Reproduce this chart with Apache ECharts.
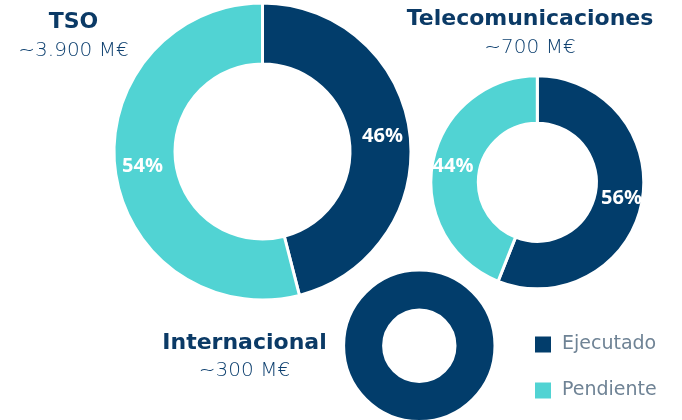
<!DOCTYPE html>
<html>
<head>
<meta charset="utf-8">
<script src="https://cdn.jsdelivr.net/npm/echarts@6/dist/echarts.min.js"></script>
<style>
html,body{margin:0;padding:0;background:#fff;}
#chart{width:682px;height:420px;}
</style>
</head>
<body>
<div id="chart"></div>
<script>
// ---- data ----
const categories = ['Ejecutado', 'Pendiente'];
const tsoValues = [46, 54];
const telecomValues = [56, 44];
const internacionalValues = [100, 0];
const groupTitles = ['TSO', 'Telecomunicaciones', 'Internacional'];
const groupAmounts = ['~3.900 M€', '~700 M€', '~300 M€'];

// ---- styles ----
const NAVY = '#023d6b';
const TEAL = '#51d3d3';
const colors = [NAVY, TEAL];

function buildData(values) {
  return values
    .map((v, i) => ({ name: categories[i], value: v, itemStyle: { color: colors[i] } }))
    .filter(d => d.value > 0);
}

const pieLayouts = [
  { center: [262.5, 151.5], radius: [87.5, 148.5], showLabel: true },
  { center: [537.3, 182.3], radius: [59, 106.5], showLabel: true },
  { center: [419.3, 345.8], radius: [35.7, 75.7], showLabel: false }
];
const seriesValues = [tsoValues, telecomValues, internacionalValues];

const series = seriesValues.map((vals, k) => ({
  type: 'pie',
  center: pieLayouts[k].center,
  radius: pieLayouts[k].radius,
  startAngle: 90,
  clockwise: true,
  silent: true,
  itemStyle: { borderColor: '#ffffff', borderWidth: 3 },
  label: {
    show: pieLayouts[k].showLabel,
    position: 'inside',
    formatter: '{c}%',
    color: '#ffffff',
    fontFamily: 'Open Sans',
    fontWeight: 700,
    fontSize: 20
  },
  labelLine: { show: false },
  emphasis: { disabled: true },
  data: buildData(vals)
}));

const titlePos = [
  { x: 73.5, y1: 22.5, y2: 51 },
  { x: 530, y1: 19, y2: 47.5 },
  { x: 244.5, y1: 343.5, y2: 370.5 }
];
const graphics = [];
groupTitles.forEach((t, i) => {
  graphics.push({
    type: 'text', x: titlePos[i].x, y: titlePos[i].y1,
    style: { text: t, fill: '#0b3a66', font: 'bold 22px "DejaVu Sans"', textAlign: 'center', textVerticalAlign: 'middle' }
  });
  graphics.push({
    type: 'text', x: titlePos[i].x, y: titlePos[i].y2,
    style: { text: groupAmounts[i], fill: '#0f4170', font: '200 20px "DejaVu Sans"', textAlign: 'center', textVerticalAlign: 'middle' }
  });
});

const chart = echarts.init(document.getElementById('chart'));
chart.setOption({
  animation: false,
  backgroundColor: '#ffffff',
  legend: {
    orient: 'vertical',
    left: 530,
    top: 330,
    itemWidth: 16,
    itemHeight: 16,
    itemGap: 27,
    icon: 'rect',
    selectedMode: false,
    data: categories,
    itemStyle: { borderWidth: 0 },
    textStyle: { fontFamily: 'DejaVu Sans', fontSize: 19, color: '#6f8395', padding: [0, 0, 0, 6] }
  },
  graphic: graphics,
  series: series
});
</script>
</body>
</html>
